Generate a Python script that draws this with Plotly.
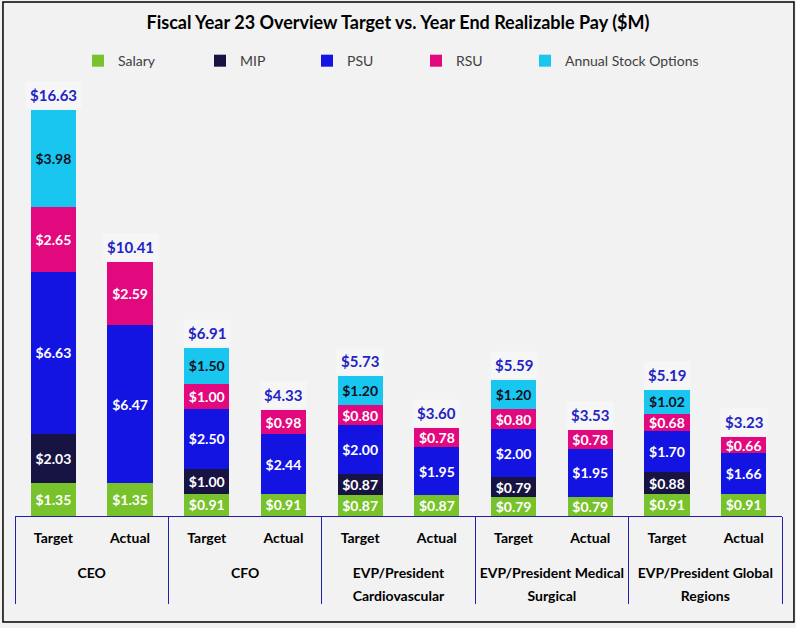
import plotly.graph_objects as go

groups = ["CEO", "CEO", "CFO", "CFO",
          "EVP/President<br>Cardiovascular", "EVP/President<br>Cardiovascular",
          "EVP/President Medical<br>Surgical", "EVP/President Medical<br>Surgical",
          "EVP/President Global<br>Regions", "EVP/President Global<br>Regions"]
kinds = ["Target", "Actual"] * 5

salary = [1.35, 1.35, 0.91, 0.91, 0.87, 0.87, 0.79, 0.79, 0.91, 0.91]
mip = [2.03, None, 1.00, None, 0.87, None, 0.79, None, 0.88, None]
psu = [6.63, 6.47, 2.50, 2.44, 2.00, 1.95, 2.00, 1.95, 1.70, 1.66]
rsu = [2.65, 2.59, 1.00, 0.98, 0.80, 0.78, 0.80, 0.78, 0.68, 0.66]
options = [3.98, None, 1.50, None, 1.20, None, 1.20, None, 1.02, None]
totals = [16.63, 10.41, 6.91, 4.33, 5.73, 3.60, 5.59, 3.53, 5.19, 3.23]

series = [
    ("Salary", salary, "#78C22B", "white"),
    ("MIP", mip, "#171444", "white"),
    ("PSU", psu, "#1414E2", "white"),
    ("RSU", rsu, "#E2097E", "white"),
    ("Annual Stock Options", options, "#19C6F0", "#111122"),
]
legend_ids = ["legend", "legend2", "legend3", "legend4", "legend5"]
legend_x = [0.0821, 0.2412, 0.3807, 0.5228, 0.6649]

FONT = "Lato"
S14 = "<span style='font-size:14px'>{}</span>"
# first-level labels: visible word + invisible spacer line to push group labels down
kinds_lbl = [S14.format(k) + "<br><span style='font-size:14px;color:rgba(0,0,0,0)'>.</span>"
             for k in kinds]
groups_lbl = ["<br>".join(S14.format(p) for p in g.split("<br>")) for g in groups]

fig = go.Figure()
for (name, vals, color, tcolor), lid in zip(series, legend_ids):
    fig.add_trace(go.Bar(
        name=name, x=[groups_lbl, kinds_lbl], y=vals, legend=lid,
        marker=dict(color=color, line=dict(width=0)),
        text=[f"${v:.2f}" if v is not None else "" for v in vals],
        textposition="inside", insidetextanchor="middle", textangle=0,
        textfont=dict(family=FONT, size=14, color=tcolor, weight="bold"),
        constraintext="none", hoverinfo="skip",
    ))

stack_tops = [sum(v[i] or 0 for _, v, _, _ in series) for i in range(len(totals))]

for i, t in enumerate(totals):
    fig.add_annotation(
        x=i, y=stack_tops[i], xref="x", yref="y",
        text=f"<b>${t:.2f}</b>", showarrow=False,
        yanchor="bottom", yshift=1,
        font=dict(family=FONT, size=15, color="#2424C4"),
        bgcolor="rgba(255,255,255,0.35)", borderpad=4,
    )

fig.add_shape(type="rect", xref="paper", yref="paper",
              x0=-0.0157, x1=1.0156, y0=-0.2377, y1=1.1525,
              line=dict(color="black", width=1.5), fillcolor="rgba(0,0,0,0)",
              layer="below")

legends = {}
for lid, lx in zip(legend_ids, legend_x):
    legends[lid] = dict(orientation="h", x=lx, xanchor="left", y=1.02, yanchor="middle",
                        font=dict(family=FONT, size=14, color="#404040"),
                        bgcolor="rgba(0,0,0,0)", itemwidth=30)

fig.update_layout(
    width=796, height=628,
    margin=dict(l=15, r=14, t=70, b=112),
    paper_bgcolor="#F2F2F2", plot_bgcolor="#F2F2F2",
    barmode="stack", bargap=0.41,
    uniformtext=dict(minsize=14, mode="show"),
    title=dict(text="Fiscal Year 23 Overview Target vs. Year End Realizable Pay ($M)",
               x=0.5, xanchor="center", y=0.9634, yanchor="middle",
               font=dict(family=FONT, size=18, color="black", weight="bold")),
    xaxis=dict(type="multicategory", showline=True, linecolor="#2020A8", linewidth=1,
               showdividers=True, dividercolor="#2020A8", dividerwidth=1,
               ticks="", ticklabelstandoff=6,
               tickfont=dict(family=FONT, size=17, color="black", weight="bold"),
               showgrid=False, zeroline=False),
    yaxis=dict(range=[0, 18.3], visible=False, showgrid=False, zeroline=False),
    showlegend=True,
    **legends,
)

fig.write_html("out.html", config={"displayModeBar": False},
               post_script="document.body.style.margin='0';")
